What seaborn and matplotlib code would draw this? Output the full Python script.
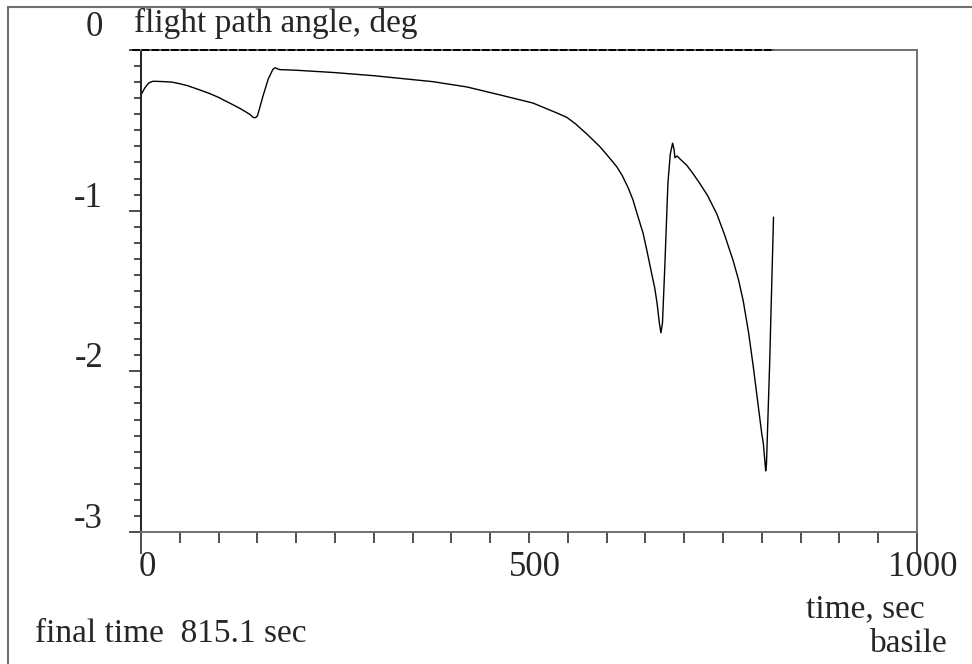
import numpy as np
import pandas as pd
import seaborn as sns
import matplotlib.pyplot as plt
from matplotlib.patches import Rectangle
from matplotlib.ticker import MultipleLocator
from matplotlib.transforms import offset_copy

# trajectory data
time_sec = [0, 5, 10, 15, 20, 30, 40, 50, 60, 76, 88, 100, 110, 119, 128, 135, 140,
            145, 148, 150, 153, 157, 164, 170, 173, 176, 179, 200, 248, 300, 376,
            420, 463, 505, 520, 535, 549, 560, 575, 591, 600, 613, 620, 628, 634,
            640, 647, 652, 658, 662, 665, 668, 670, 672, 675, 679, 682, 685, 687,
            688, 691, 695, 703, 710, 720, 730, 742, 752, 763, 770, 776, 783, 789,
            795, 800, 802, 804, 805, 806, 810, 815.1]
gamma_deg = [-0.28, -0.235, -0.205, -0.195, -0.195, -0.197, -0.200, -0.21, -0.222,
             -0.249, -0.27, -0.295, -0.32, -0.342, -0.365, -0.385, -0.40, -0.421,
             -0.42, -0.41, -0.36, -0.29, -0.18, -0.12, -0.11, -0.118, -0.122,
             -0.126, -0.14, -0.16, -0.197, -0.23, -0.28, -0.33, -0.36, -0.39,
             -0.42, -0.46, -0.525, -0.60, -0.65, -0.726, -0.78, -0.86, -0.933,
             -1.03, -1.14, -1.25, -1.39, -1.48, -1.575, -1.70, -1.76, -1.70,
             -1.35, -0.83, -0.65, -0.58, -0.62, -0.67, -0.66, -0.68, -0.716,
             -0.76, -0.83, -0.905, -1.02, -1.15, -1.31, -1.43, -1.56, -1.76, -1.97,
             -2.2, -2.39, -2.45, -2.56, -2.62, -2.58, -1.97, -1.04]
final_time = 815.1
x_ticks = [0, 500, 1000]
x_tick_labels = ['0', '500', '1000']
y_ticks = [0, -1, -2, -3]
y_tick_labels = ['0', '-1', '-2', '-3']

df = pd.DataFrame({'time': time_sec, 'gamma': gamma_deg})

sns.set_style('white')
plt.rcParams['font.family'] = ['Liberation Serif', 'DejaVu Serif']

W, H = 972, 664
fig = plt.figure(figsize=(W / 100, H / 100), dpi=100)
ax = fig.add_axes([141 / W, 1 - 532 / H, (917 - 141) / W, (532 - 50) / H])

sns.lineplot(data=df, x='time', y='gamma', ax=ax, color='black', lw=1.0,
             sort=False, estimator=None)

ax.set_xlim(0, 1000)
ax.set_ylim(-3, 0)
ax.set_xlabel('')
ax.set_ylabel('')

for side in ['top', 'right', 'bottom']:
    ax.spines[side].set_color('#707070')
    ax.spines[side].set_linewidth(1.4)
ax.spines['left'].set_color('#202020')
ax.spines['left'].set_linewidth(1.4)

# x ticks
ax.set_xticks(x_ticks)
ax.set_xticklabels(x_tick_labels, fontsize=25)
ax.xaxis.set_minor_locator(MultipleLocator(50))
ax.tick_params(axis='x', which='both', direction='out', bottom=True,
               length=8, width=1.2, color='#303030', pad=6)
for i in (0, 2):
    ax.xaxis.get_major_ticks()[i].tick1line.set_markersize(16)
for lab in ax.get_xticklabels():
    lab.set_transform(offset_copy(lab.get_transform(), fig=fig, x=6, y=0, units='dots'))

# y ticks: labels sit slightly above the tick marks, drawn as text
ax.set_yticks(y_ticks)
ax.set_yticklabels([])
ax.yaxis.set_minor_locator(MultipleLocator(0.1))
ax.tick_params(axis='y', which='major', direction='out', left=True,
               length=9, width=1.2, color='#303030')
ax.tick_params(axis='y', which='minor', direction='out', left=True,
               length=5, width=1.2, color='#303030')
ytrans = ax.get_yaxis_transform()
for val, lab in zip(y_ticks, y_tick_labels):
    dy = 14 if val == 0 else 4
    tr = offset_copy(ytrans, fig=fig, x=-38, y=dy, units='dots')
    ax.text(0, val, lab, transform=tr, ha='right', va='baseline', fontsize=25)

# dashed zero reference up to the final time
ax.axhline(0, xmin=-0.012, xmax=final_time / 1000, color='black', lw=1.4,
           ls=(0, (4, 1)), clip_on=False, zorder=4)

# texts
fig.text(134 / W, 1 - 32 / H, 'flight path angle, deg', fontsize=24, va='baseline')
fig.text(35 / W, 1 - 642 / H, 'final time  815.1 sec', fontsize=24, va='baseline')
fig.text(925 / W, 1 - 617 / H, 'time, sec', fontsize=24, va='baseline', ha='right')
fig.text(948 / W, 1 - 652 / H, 'basile', fontsize=24, va='baseline', ha='right')

# page frame
fig.add_artist(Rectangle((8 / W, -0.1), 1.2, 1.1 - 7 / H, fill=False,
                         edgecolor='#707070', lw=1.5, transform=fig.transFigure))

fig.savefig('out.png', dpi=100)
